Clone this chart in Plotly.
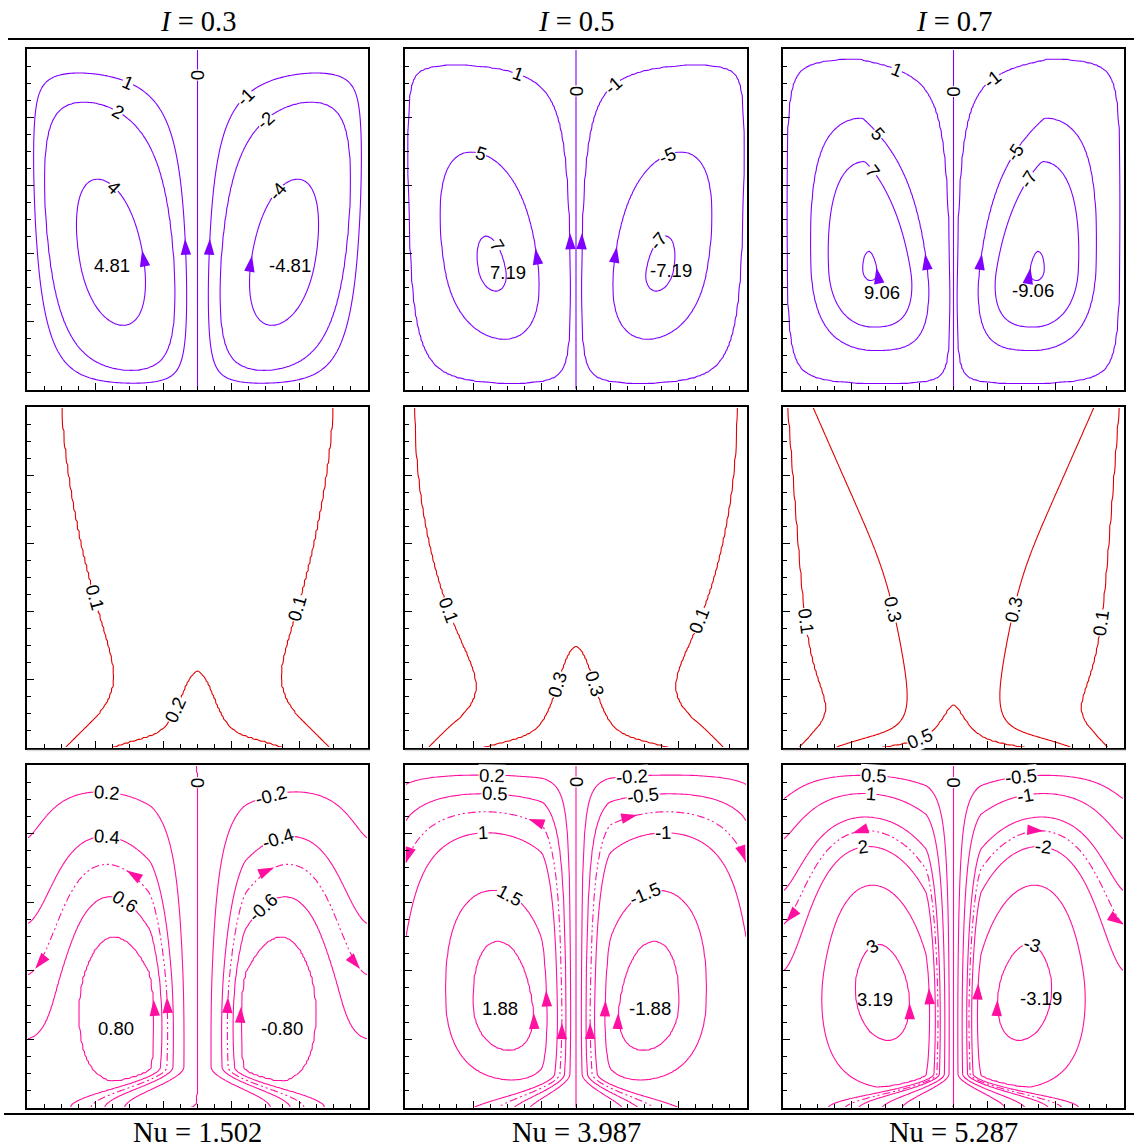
import numpy as np
import plotly.graph_objects as go

# ---------------- values shown in the figure ----------------
I_VALUES = [0.3, 0.5, 0.7]
NU_VALUES = [1.502, 3.987, 5.287]

# streamlines (row 1): extreme value of each cell and the drawn levels
PSI_EXTREMES = [4.81, 7.19, 9.06]
PSI_LEVELS = [[0, 1, 2, 4], [0, 1, 5, 7], [0, 1, 5, 7, 9]]

# isotherms (row 2)
THETA_LEVELS = [[0.1, 0.2], [0.1, 0.3], [0.1, 0.3, 0.5]]

# heatlines (row 3)
PI_EXTREMES = [0.80, 1.88, 3.19]
PI_LEVELS = [[0, 0.2, 0.4, 0.6, 0.7], [0, 0.2, 0.5, 1, 1.5, 1.75],
             [0, 0.5, 1, 1.5, 2, 2.5, 3]]
PI_DASHED_LEVEL = [0.5, 0.75, 1.75]

# ---------------- field model shape parameters ----------------
PSI_SHAPE = [
    dict(pc=0.50, yc=0.37, tilt=-0.35, slant=0.0, a1=0.75, a2=1.0, qx=1.0, qy=0.9),
    dict(pc=0.51, yc=0.35, tilt=-0.35, slant=0.0, a1=0.90, a2=1.0, qx=0.85, qy=0.9),
    dict(pc=0.51, yc=0.35, tilt=-0.10, slant=-1.5, a1=0.90, a2=0.85, qx=0.8, qy=1.0),
]
THETA_SHAPE = [
    dict(t_bot=0.29, t_top=0.15, kap=0.35, mu=0.15, d_top=0.095, d_bot=0.29, nd=1.5,
         d_pool=0.0, t_pl=0.20, l_pl=0.22, w_pl=0.09, l_bot=0.08),
    dict(t_bot=0.47, t_top=0.20, kap=0.50, mu=0.15, d_top=0.043, d_bot=0.42, nd=2.0,
         d_pool=0.05, t_pl=0.36, l_pl=0.30, w_pl=0.12, l_bot=0.07),
    dict(t_bot=0.66, t_top=0.35, kap=0.85, mu=0.12, d_top=0.045, d_bot=0.27, nd=1.0,
         d_pool=0.25, t_pl=0.435, l_pl=0.30, w_pl=0.13, l_bot=0.06),
]
# heatline model: circulation cell + through-flow from the heated floor to the cold wall
PI_SHAPE = [
    dict(cell=dict(pc=0.53, yc=0.40, tilt=-0.2, slant=0.0, a1=1.2, a2=0.6, qx=1.5, qy=1.0),
         ac=0.26, ow=0.66, nw=1.5, xs0=0.0, xe0=0.33, pw0=2.5, xs1=0.36, xe1=0.49,
         pw1=1.3, hs=0.12),
    dict(cell=dict(pc=0.58, yc=0.30, tilt=-0.2, slant=0.0, a1=0.85, a2=0.8, qx=0.9, qy=1.0),
         ac=0.80, ow=1.10, nw=3.3, xs0=0.12, xe0=0.39, pw0=1.9, xs1=0.40, xe1=0.49,
         pw1=1.3, hs=0.10),
    dict(cell=dict(pc=0.575, yc=0.40, tilt=-0.2, slant=0.0, a1=1.0, a2=0.55, qx=1.2, qy=1.0),
         ac=1.10, ow=2.25, nw=2.4, xs0=0.04, xe0=0.40, pw0=1.6, xs1=0.42, xe1=0.50,
         pw1=1.3, hs=0.10),
]

# ---------------- annotation placement (panel coordinates) ----------------
PSI_LABEL_SPOTS = [
    [(1, 0.30, 0.91), (2, 0.276, 0.833), (0, 0.5, 0.925), (-1, 0.627, 0.87),
     (-2, 0.69, 0.80), (4, 0.252, 0.59), (-4, 0.725, 0.59)],
    [(1, 0.328, 0.92), (0, 0.5, 0.877), (-1, 0.61, 0.89), (5, 0.23, 0.71),
     (-5, 0.757, 0.71), (7, 0.264, 0.42), (-7, 0.733, 0.44)],
    [(1, 0.328, 0.93), (0, 0.5, 0.877), (-1, 0.616, 0.906), (5, 0.27, 0.745),
     (-5, 0.674, 0.70), (7, 0.255, 0.634), (-7, 0.724, 0.614)],
]
PSI_VALUE_SPOTS = [[(0.25, 0.365), (0.77, 0.365)], [(0.302, 0.345), (0.777, 0.35)],
                   [(0.29, 0.287), (0.733, 0.292)]]
PSI_ARROW_SPOTS = [
    [(4, 0.34, 0.41), (1, 0.466, 0.444), (-4, 0.654, 0.395), (-1, 0.53, 0.444)],
    [(5, 0.38, 0.415), (1, 0.478, 0.46), (-5, 0.62, 0.42), (-1, 0.52, 0.46)],
    [(9, 0.28, 0.36), (5, 0.42, 0.40), (-9, 0.716, 0.36), (-5, 0.578, 0.40)],
]
THETA_LABEL_SPOTS = [
    [(0.1, 0.205, 0.443), (0.1, 0.78, 0.413), (0.2, 0.42, 0.12)],
    [(0.1, 0.103, 0.396), (0.1, 0.88, 0.367), (0.3, 0.434, 0.19), (0.3, 0.557, 0.19)],
    [(0.1, 0.059, 0.37), (0.1, 0.924, 0.367), (0.3, 0.318, 0.405), (0.3, 0.68, 0.405),
     (0.5, 0.40, 0.03)],
]
PI_LABEL_SPOTS = [
    [(0, 0.5, 0.95), (0.2, 0.234, 0.898), (-0.2, 0.72, 0.892), (0.4, 0.234, 0.773),
     (-0.4, 0.742, 0.761), (0.6, 0.272, 0.568), (-0.6, 0.712, 0.557)],
    [(0, 0.503, 0.95), (0.2, 0.254, 0.95), (-0.2, 0.667, 0.942), (0.5, 0.263, 0.889),
     (-0.5, 0.70, 0.878), (1, 0.228, 0.787), (-1, 0.754, 0.776), (1.5, 0.284, 0.563),
     (-1.5, 0.722, 0.563)],
    [(0, 0.495, 0.95), (0.5, 0.264, 0.927), (-0.5, 0.704, 0.927), (1, 0.255, 0.869),
     (-1, 0.718, 0.863), (2, 0.24, 0.732), (-2, 0.76, 0.737), (3, 0.27, 0.452),
     (-3, 0.724, 0.452)],
]
PI_VALUE_SPOTS = [[(0.26, 0.233), (0.747, 0.233)], [(0.278, 0.29), (0.716, 0.29)],
                  [(0.27, 0.315), (0.757, 0.32)]]
PI_ARROW_SPOTS = [
    [(0.7, 0.364, 0.315), (0.5, 0.414, 0.324), (0.5, 0.28, 0.67), (0.5, 0.02, 0.41),
     (-0.7, 0.64, 0.294), (-0.5, 0.586, 0.324), (-0.5, 0.733, 0.68), (-0.5, 0.982, 0.41)],
    [(1.75, 0.351, 0.277), (1.5, 0.433, 0.344), (0.75, 0.459, 0.248), (0.75, 0.336, 0.78),
     (0.75, 0.015, 0.708), (-1.75, 0.649, 0.277), (-1.5, 0.561, 0.315),
     (-0.75, 0.535, 0.248), (-0.75, 0.693, 0.80), (-0.75, 0.985, 0.714)],
    [(3, 0.358, 0.306), (2.5, 0.437, 0.35), (1.75, 0.205, 0.796), (1.75, 0.02, 0.534),
     (-3, 0.645, 0.315), (-2.5, 0.563, 0.364), (-1.75, 0.762, 0.787),
     (-1.75, 0.988, 0.52)],
]

PURPLE = "#8000FF"
RED = "#E00000"
PINK = "#FF10A0"
LABEL_FONT = dict(family="Liberation Sans, Arial, sans-serif", size=18.5, color="black")
TITLE_FONT = dict(family="Liberation Serif, Times New Roman, serif", size=28.5, color="black")

W, H = 1134, 1148
COLS_PX = [(27, 368), (405, 747), (783, 1124)]
ROWS_PX = [(49, 390), (407, 748), (765, 1108)]

# ---------------- model fields ----------------
N = 180
xg = (np.arange(N) + 0.5) / N
yg = (np.arange(N) + 0.5) / N
XX, YY = np.meshgrid(xg, yg)


def smoothstep(t):
    t = np.clip(t, 0.0, 1.0)
    return t * t * (3 - 2 * t)


def bump(s, q):
    return np.clip(np.sin(np.pi * np.clip(s, 0.0, 1.0)), 0.0, 1.0) ** q


def cell(u, y, pc, yc, tilt, slant, a1, a2, qx, qy):
    u = np.clip(u, 0.0, 1.0)
    y = np.clip(y, 0.0, 1.0)
    s = np.where(y < yc, 0.5 * (y / yc) ** a1, 1 - 0.5 * ((1 - y) / (1 - yc)) ** a2)
    p = np.clip(pc + tilt * (y - yc), 0.2, 0.8)
    uw = u ** (np.log(0.5) / np.log(p))
    b = np.exp(slant * (y - yc))
    uw = np.where(uw > 0.5, 0.5 + 0.5 * (np.clip(uw - 0.5, 0, 0.5) / 0.5) ** b, uw)
    return bump(uw, qx) * bump(s, qy)


def make_psi(k):
    prm, amp = PSI_SHAPE[k], PSI_EXTREMES[k]

    def f(x, y):
        x = np.asarray(x, float)
        y = np.asarray(y, float)
        left = x < 0.5
        u = np.where(left, 2 * x, 2 * (1 - x))
        return np.where(left, 1.0, -1.0) * amp * cell(u, y, **prm)
    return f


def make_theta(k):
    p = THETA_SHAPE[k]

    def f(x, y):
        x = np.asarray(x, float)
        y = np.clip(np.asarray(y, float), 0, 1)
        d = np.clip(np.minimum(x, 1 - x), 0, 0.5)
        tint = p["t_top"] * (1 - p["kap"] * np.exp(-y / p["mu"]))
        dl = (p["d_top"] + (p["d_bot"] - p["d_top"]) * (1 - y) ** p["nd"]
              + p["d_pool"] * (1 - y) ** 8)
        plume = p["t_pl"] * np.exp(-y / p["l_pl"]) * np.exp(-((0.5 - d) / p["w_pl"]) ** 2)
        interior = tint * (1 - np.exp(-d / dl)) + plume
        beta = 1 - np.exp(-y / p["l_bot"])
        return (1 - beta) * p["t_bot"] * np.sin(np.pi * d) + beta * interior
    return f


def make_pi(k):
    p = PI_SHAPE[k]

    def raw(x, y, ac):
        x = np.asarray(x, float)
        y = np.clip(np.asarray(y, float), 0, 1)
        left = x < 0.5
        xl = np.where(left, x, 1 - x)
        c = ac * cell(2 * xl, y, **p["cell"])
        sy = smoothstep(y / p["hs"])
        xs = p["xs0"] + (p["xs1"] - p["xs0"]) * sy
        xe = p["xe0"] + (p["xe1"] - p["xe0"]) * sy
        pw = p["pw0"] + (p["pw1"] - p["pw0"]) * sy
        t = np.clip((xl - xs) / (xe - xs), 0.0, 1.0)
        through = p["ow"] * (1 - t ** pw) * (1 - y ** p["nw"])
        return np.where(left, 1.0, -1.0) * (c + through)

    # circulation strength set so that the cell extreme equals the stated value
    FX, FY = np.meshgrid(np.linspace(0.001, 0.499, 400), np.linspace(0.001, 0.999, 400))
    ac = p["ac"]
    for _ in range(60):
        ac += PI_EXTREMES[k] - raw(FX, FY, ac).max()
    return lambda x, y: raw(x, y, ac)


def grad(f, x, y, h=1e-4):
    fx = (float(f(x + h, y)) - float(f(x - h, y))) / (2 * h)
    fy = (float(f(x, y + h)) - float(f(x, y - h))) / (2 * h)
    return fx, fy


def project(f, level, x, y):
    for _ in range(80):
        v = float(f(x, y)) - level
        fx, fy = grad(f, x, y)
        g2 = fx * fx + fy * fy
        if g2 < 1e-14:
            break
        dx, dy = -v * fx / g2, -v * fy / g2
        ln = np.hypot(dx, dy)
        if ln > 0.01:
            dx, dy = dx * 0.01 / ln, dy * 0.01 / ln
        x = float(np.clip(x + dx, 0.002, 0.998))
        y = float(np.clip(y + dy, 0.002, 0.998))
        if ln < 1e-7:
            break
    return x, y


def level_index_map(z, levels):
    lv = np.array(sorted(levels), float)
    lo = min(z.min(), lv[0]) - 1
    hi = max(z.max(), lv[-1]) + 1
    xp = np.concatenate([[lo], lv, [hi]])
    fp = np.concatenate([[-1.0], np.arange(len(lv), dtype=float), [float(len(lv))]])
    return np.interp(z, xp, fp)


def axis_names(n):
    return ("x" if n == 1 else f"x{n}"), ("y" if n == 1 else f"y{n}")


def contour_trace(z, levels, color, n, dash="solid"):
    xa, ya = axis_names(n)
    zm = np.round(level_index_map(z, levels), 3)
    return go.Contour(
        x=xg, y=yg, z=zm, autocontour=False,
        contours=dict(start=0, end=len(levels) - 1, size=1, coloring="lines",
                      showlabels=False),
        colorscale=[[0, color], [1, color]], showscale=False,
        line=dict(width=1.1, dash=dash, smoothing=1.0),
        hoverinfo="skip", xaxis=xa, yaxis=ya)


def fmt(v):
    return f"{v:g}"


def label_annotation(f, level, x0, y0, n, text):
    x, y = project(f, level, x0, y0)
    fx, fy = grad(f, x, y)
    ang = np.degrees(np.arctan2(-fx, -fy))  # screen angle of the tangent (-fy, fx)
    while ang > 90:
        ang -= 180
    while ang <= -90:
        ang += 180
    xa, ya = axis_names(n)
    return dict(x=x, y=y, xref=xa, yref=ya, text=text, showarrow=False,
                textangle=float(ang), font=LABEL_FONT, bgcolor="white", borderpad=0,
                xanchor="center", yanchor="middle")


def arrow_trace(f, spots, color, n):
    xs, ys, angs = [], [], []
    for level, x0, y0 in spots:
        x, y = project(f, level, x0, y0)
        fx, fy = grad(f, x, y)
        vx, vy = fy, -fx
        xs.append(x)
        ys.append(y)
        angs.append(float(np.degrees(np.arctan2(vx, vy))))
    xa, ya = axis_names(n)
    return go.Scatter(x=xs, y=ys, mode="markers", hoverinfo="skip", cliponaxis=False,
                      marker=dict(symbol="arrow", size=17, angle=angs, color=color,
                                  line=dict(width=0)),
                      xaxis=xa, yaxis=ya)


def mirrored(levels):
    return sorted(set([-v for v in levels] + list(levels)))


fig = go.Figure()
annotations = []

for k in range(3):
    # row 1: streamlines
    n = 1 + k
    f = make_psi(k)
    fig.add_trace(contour_trace(f(XX, YY), mirrored(PSI_LEVELS[k]), PURPLE, n))
    for level, x0, y0 in PSI_LABEL_SPOTS[k]:
        annotations.append(label_annotation(f, level, x0, y0, n, fmt(level)))
    xa, ya = axis_names(n)
    for sgn, (vx, vy) in zip([1, -1], PSI_VALUE_SPOTS[k]):
        annotations.append(dict(x=vx, y=vy, xref=xa, yref=ya, showarrow=False,
                                text=f"{sgn * PSI_EXTREMES[k]:.2f}", font=LABEL_FONT))
    fig.add_trace(arrow_trace(f, PSI_ARROW_SPOTS[k], PURPLE, n))

    # row 2: isotherms
    n = 4 + k
    f = make_theta(k)
    fig.add_trace(contour_trace(f(XX, YY), THETA_LEVELS[k], RED, n))
    for level, x0, y0 in THETA_LABEL_SPOTS[k]:
        annotations.append(label_annotation(f, level, x0, y0, n, fmt(level)))

    # row 3: heatlines
    n = 7 + k
    f = make_pi(k)
    Z = f(XX, YY)
    fig.add_trace(contour_trace(Z, mirrored(PI_LEVELS[k]), PINK, n))
    fig.add_trace(contour_trace(Z, mirrored([PI_DASHED_LEVEL[k]]), PINK, n,
                                dash="8px,3px,2px,3px,2px,3px"))
    for level, x0, y0 in PI_LABEL_SPOTS[k]:
        annotations.append(label_annotation(f, level, x0, y0, n, fmt(level)))
    xa, ya = axis_names(n)
    for sgn, (vx, vy) in zip([1, -1], PI_VALUE_SPOTS[k]):
        annotations.append(dict(x=vx, y=vy, xref=xa, yref=ya, showarrow=False,
                                text=f"{sgn * PI_EXTREMES[k]:.2f}", font=LABEL_FONT))
    fig.add_trace(arrow_trace(f, PI_ARROW_SPOTS[k], PINK, n))

# column headers and footers
for k in range(3):
    cx = (COLS_PX[k][0] + COLS_PX[k][1]) / 2 / W
    annotations.append(dict(x=cx, y=1 - 22 / H, xref="paper", yref="paper",
                            text=f"<i>I</i> = {I_VALUES[k]}", showarrow=False,
                            font=TITLE_FONT, xanchor="center", yanchor="middle"))
    annotations.append(dict(x=cx, y=1 - 1132 / H, xref="paper", yref="paper",
                            text=f"Nu = {NU_VALUES[k]:.3f}", showarrow=False,
                            font=TITLE_FONT, xanchor="center", yanchor="middle"))

shapes = [
    dict(type="line", xref="paper", yref="paper", x0=8 / W, x1=1, y0=1 - 39 / H,
         y1=1 - 39 / H, line=dict(color="black", width=2.2)),
    dict(type="line", xref="paper", yref="paper", x0=4 / W, x1=1, y0=1 - 1114 / H,
         y1=1 - 1114 / H, line=dict(color="black", width=2.2)),
]
for c0, c1 in COLS_PX:
    shapes.append(dict(type="line", xref="paper", yref="paper", x0=c0 / W, x1=(c1 + 2) / W,
                       y0=1 - 750.5 / H, y1=1 - 750.5 / H,
                       line=dict(color="#dcdcdc", width=1.5)))

layout = dict(width=W, height=H, margin=dict(l=0, r=0, t=0, b=0),
              paper_bgcolor="white", plot_bgcolor="white", showlegend=False,
              annotations=annotations, shapes=shapes)

for idx in range(9):
    r, c = divmod(idx, 3)
    n = idx + 1
    xa, ya = axis_names(n)
    common = dict(range=[0, 1], showgrid=False, zeroline=False, showline=True, mirror=True,
                  linecolor="black", linewidth=1.6, ticks="inside", ticklen=7,
                  tickwidth=1.3, tickcolor="black", tick0=0, dtick=0.2,
                  showticklabels=False, fixedrange=True,
                  minor=dict(ticks="inside", ticklen=4, tickwidth=1, dtick=0.05, tick0=0,
                             tickcolor="black", showgrid=False))
    layout["xaxis" if n == 1 else f"xaxis{n}"] = dict(
        domain=[COLS_PX[c][0] / W, COLS_PX[c][1] / W], anchor=ya, **common)
    layout["yaxis" if n == 1 else f"yaxis{n}"] = dict(
        domain=[1 - ROWS_PX[r][1] / H, 1 - ROWS_PX[r][0] / H], anchor=xa, **common)

fig.update_layout(**layout)
fig.write_html("out.html", config=dict(displayModeBar=False))
